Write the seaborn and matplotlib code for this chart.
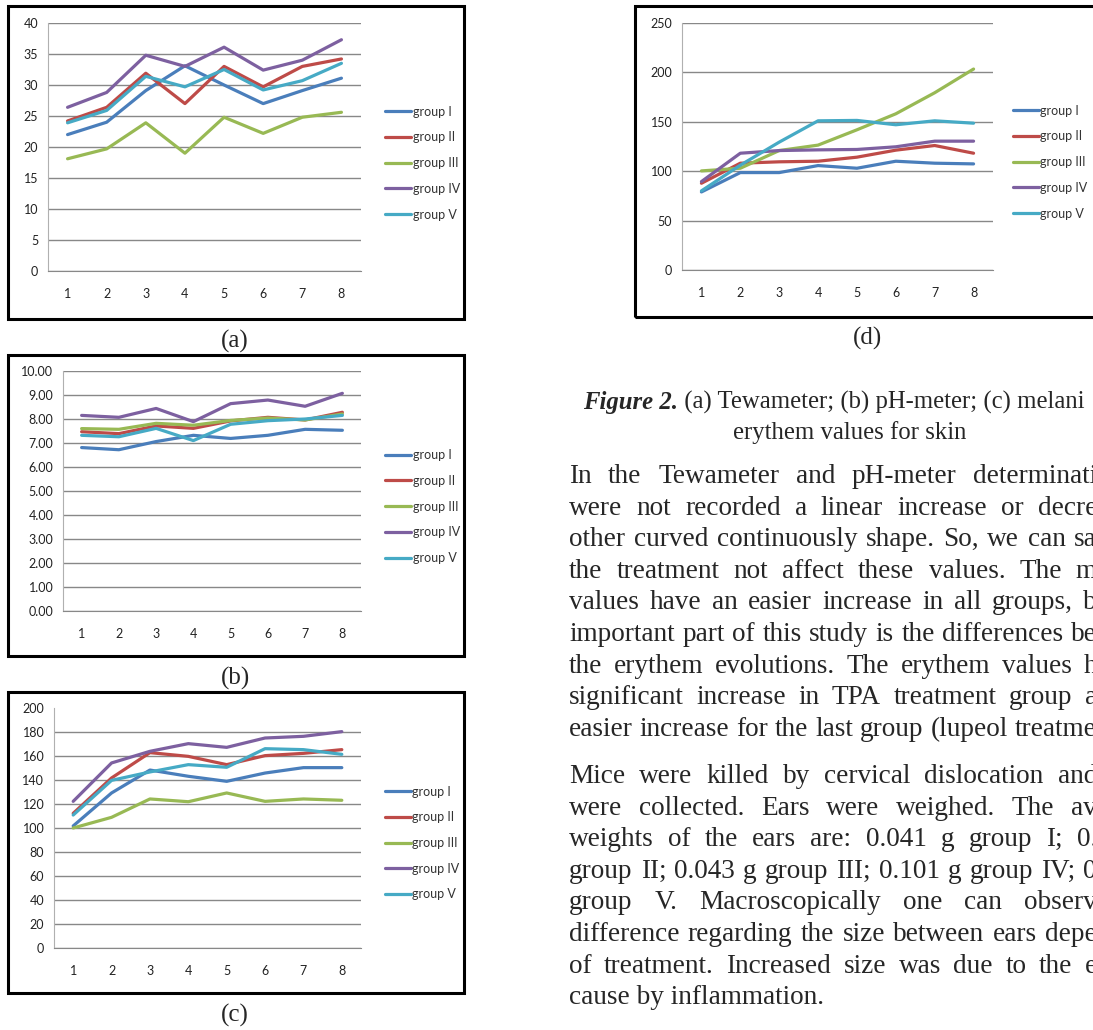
import matplotlib
matplotlib.use("Agg")
import matplotlib.pyplot as plt
import matplotlib.patches as mpatches
import pandas as pd
import seaborn as sns

W, H = 1093, 1030

# measurement days on the x axis
days = [1, 2, 3, 4, 5, 6, 7, 8]
groups = ["group I", "group II", "group III", "group IV", "group V"]

# (a) Tewameter
tewa_I = [22.0, 24.0, 29.1, 33.1, 30.0, 27.0, 29.1, 31.1]
tewa_II = [24.2, 26.4, 31.9, 27.0, 33.0, 29.7, 33.0, 34.2]
tewa_III = [18.1, 19.7, 23.9, 19.0, 24.8, 22.2, 24.8, 25.6]
tewa_IV = [26.4, 28.8, 34.8, 33.0, 36.1, 32.4, 34.0, 37.3]
tewa_V = [23.9, 25.9, 31.4, 29.7, 32.5, 29.2, 30.7, 33.5]

# (b) pH-meter
ph_I = [6.81, 6.72, 7.06, 7.32, 7.19, 7.32, 7.57, 7.53]
ph_II = [7.47, 7.39, 7.71, 7.61, 7.92, 8.07, 7.96, 8.28]
ph_III = [7.60, 7.57, 7.82, 7.74, 7.94, 8.04, 7.96, 8.21]
ph_IV = [8.15, 8.07, 8.44, 7.89, 8.64, 8.79, 8.53, 9.07]
ph_V = [7.32, 7.26, 7.61, 7.10, 7.78, 7.93, 8.00, 8.15]

# (c) melanin
mel_I = [101.7, 129.2, 148.3, 143.1, 138.9, 145.8, 150.3, 150.3]
mel_II = [112.2, 141.7, 162.8, 159.7, 152.8, 160.3, 162.2, 165.3]
mel_III = [100.0, 108.9, 124.2, 121.9, 129.2, 122.2, 124.2, 123.1]
mel_IV = [122.2, 154.2, 163.9, 170.3, 167.2, 175.0, 176.4, 180.3]
mel_V = [110.8, 139.7, 146.7, 152.8, 150.6, 166.1, 165.3, 161.4]

# (d) erythem
ery_I = [79.0, 98.6, 98.6, 105.7, 103.0, 110.1, 108.1, 107.4]
ery_II = [87.8, 108.1, 109.5, 110.1, 114.2, 121.3, 126.0, 118.2]
ery_III = [100.3, 103.0, 120.9, 126.4, 141.9, 158.1, 179.4, 203.4]
ery_IV = [89.5, 118.2, 120.9, 121.6, 122.0, 124.7, 130.4, 130.4]
ery_V = [80.1, 106.1, 129.4, 151.0, 151.4, 147.0, 151.0, 148.6]

colors = ["#4A7EBB", "#BE4B48", "#98B954", "#7D60A0", "#46AAC5"]

sns.set_style("white")
plt.rcParams["font.family"] = ["Lato", "DejaVu Sans"]


def to_long(series):
    rows = []
    for g, vals in zip(groups, series):
        for d, v in zip(days, vals):
            rows.append({"day": d, "value": v, "group": g})
    return pd.DataFrame(rows)


def fig_rect(x0, y0, x1, y1):
    # pixel box (top-left origin) -> figure fraction [l, b, w, h]
    return [x0 / W, 1 - y1 / H, (x1 - x0) / W, (y1 - y0) / H]


fig = plt.figure(figsize=(W / 100, H / 100), dpi=100)

panels = [
    # series, axes box, frame box, yticks, fmt, legend anchor, label, label pos
    ([tewa_I, tewa_II, tewa_III, tewa_IV, tewa_V], (48, 23, 361, 271),
     (8, 6, 464, 319), range(0, 41, 5), "{:.0f}", (1.077, 0.435),
     "(a)", (235, 348), False),
    ([ph_I, ph_II, ph_III, ph_IV, ph_V], (63, 371, 361, 611),
     (8, 355, 464, 656), range(0, 11, 1), "{:.2f}", (1.081, 0.435),
     "(b)", (235, 685), False),
    ([mel_I, mel_II, mel_III, mel_IV, mel_V], (54, 708, 361, 948),
     (8, 692, 464, 993), range(0, 201, 20), "{:.0f}", (1.078, 0.4375),
     "(c)", (235, 1022), True),
    ([ery_I, ery_II, ery_III, ery_IV, ery_V], (682, 23, 993, 270),
     (635, 6, 1110, 317), range(0, 251, 50), "{:.0f}", (1.064, 0.437),
     "(d)", (867, 345), False),
]

for series, abox, fbox, yt, fmt, lanchor, lab, lpos, hide_top in panels:
    # chart frame
    fig.add_artist(mpatches.Rectangle((fbox[0] / W, 1 - fbox[3] / H),
                                      (fbox[2] - fbox[0]) / W,
                                      (fbox[3] - fbox[1]) / H,
                                      transform=fig.transFigure,
                                      fill=False, ec="black", lw=2.2))
    ax = fig.add_axes(fig_rect(*abox))
    df = to_long(series)
    sns.lineplot(data=df, x="day", y="value", hue="group", palette=colors,
                 linewidth=2.3, ax=ax)
    yt = list(yt)
    ax.set_xlim(0.5, 8.5)
    ax.set_ylim(yt[0], yt[-1])
    ax.set_yticks(yt)
    ax.set_yticklabels([fmt.format(v) for v in yt])
    ax.set_xticks(days)
    ax.set_xticks([d + 0.5 for d in range(0, 9)], minor=True)
    ax.tick_params(axis="x", which="major", length=0, pad=12,
                   labelsize=9, labelcolor="#222222")
    ax.tick_params(axis="x", which="minor", length=4, color="#b0b0b0",
                   width=1, direction="out")
    ax.tick_params(axis="y", length=4, color="#888888", width=1,
                   labelsize=9, labelcolor="#222222", pad=3)
    ax.set_xlabel("")
    ax.set_ylabel("")
    ax.grid(axis="y", color="#888888", linewidth=1)
    ax.set_axisbelow(True)
    if hide_top:
        ax.get_ygridlines()[-1].set_visible(False)
    for s in ["top", "right"]:
        ax.spines[s].set_visible(False)
    ax.spines["left"].set_color("#b0b0b0")
    ax.spines["bottom"].set_color("#888888")
    sns.move_legend(ax, "center left", bbox_to_anchor=lanchor,
                    frameon=False, title=None, fontsize=9,
                    borderpad=0, borderaxespad=0, handlelength=2.1,
                    handletextpad=0.1, labelspacing=1.1,
                    labelcolor="#333333")
    fig.text(lpos[0] / W, 1 - lpos[1] / H, lab, ha="center", va="baseline",
             fontsize=18, family="Liberation Serif")

# caption and body text
renderer = fig.canvas.get_renderer()
serif = "Liberation Serif"
cap_fs = 17.8

cap = fig.text(583 / W, 1 - 409 / H, "Figure 2.", fontsize=cap_fs,
               family=serif, weight="bold", style="italic", va="baseline")
cw = cap.get_window_extent(renderer=renderer).width
fig.text((583 + cw) / W, 1 - 409 / H,
         " (a) Tewameter; (b) pH-meter; (c) melani",
         fontsize=cap_fs, family=serif, va="baseline")
fig.text(733 / W, 1 - 439 / H, "erythem values for skin", fontsize=cap_fs,
         family=serif, va="baseline")

para1 = [
    "In the Tewameter and pH-meter determinati",
    "were not recorded a linear increase or decre",
    "other curved continuously shape. So, we can sa",
    "the treatment not affect these values. The m",
    "values have an easier increase in all groups, b",
    "important part of this study is the differences be",
    "the erythem evolutions. The erythem values h",
    "significant increase in TPA treatment group a",
    "easier increase for the last group (lupeol treatme",
]
para2 = [
    "Mice were killed by cervical dislocation and",
    "were collected. Ears were weighed. The av",
    "weights of the ears are: 0.041 g group I; 0.",
    "group II; 0.043 g group III; 0.101 g group IV; 0",
    "group V. Macroscopically one can observ",
    "difference regarding the size between ears depe",
    "of treatment. Increased size was due to the e",
    "cause by inflammation.",
]

x0, x1 = 569, 1097
body_fs = 19.6


def put_line(text, base, justify):
    if not justify:
        fig.text(x0 / W, 1 - base / H, text, fontsize=body_fs, family=serif,
                 va="baseline")
        return
    words = text.split(" ")
    objs = [fig.text(0, 1 - base / H, w, fontsize=body_fs, family=serif,
                     va="baseline") for w in words]
    widths = [o.get_window_extent(renderer=renderer).width for o in objs]
    gap = (x1 - x0 - sum(widths)) / (len(words) - 1)
    x = x0
    for o, w in zip(objs, widths):
        o.set_x(x / W)
        x += w + gap


for i, line in enumerate(para1):
    put_line(line, 483 + i * 31.6, True)
for i, line in enumerate(para2):
    put_line(line, 783 + i * 31.6, i < len(para2) - 1)

fig.savefig("out.png", dpi=100)
